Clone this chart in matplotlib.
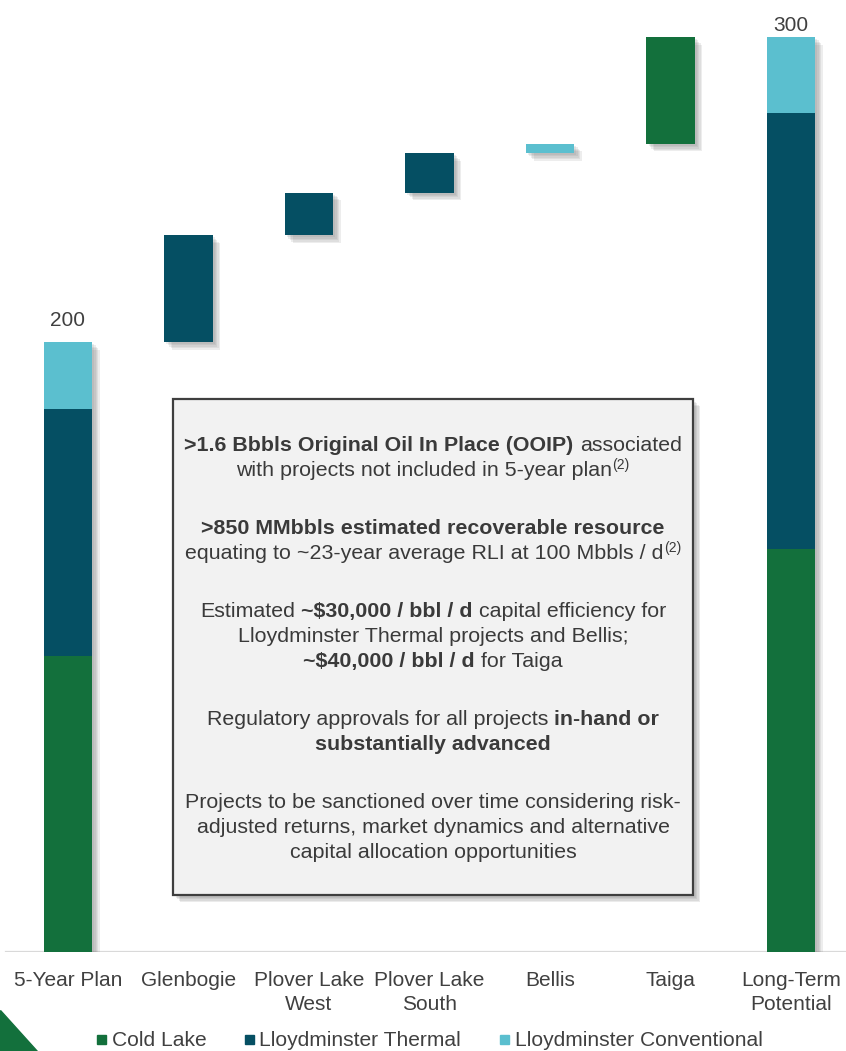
import matplotlib
matplotlib.use('Agg')
import matplotlib.pyplot as plt
from matplotlib.patches import Rectangle, Polygon
import matplotlib.patheffects as pe
from matplotlib.transforms import blended_transform_factory

# ---------------- data ----------------
categories = ["5-Year Plan", "Glenbogie", "Plover Lake\nWest", "Plover Lake\nSouth",
              "Bellis", "Taiga", "Long-Term\nPotential"]
series_names = ["Cold Lake", "Lloydminster Thermal", "Lloydminster Conventional"]
cold_lake = [97, 0, 0, 0, 0, 35, 132]
thermal = [81, 35, 14, 13, 0, 0, 143]
conventional = [22, 0, 0, 0, 3, 0, 25]
is_total = [True, False, False, False, False, False, True]
total_labels = ["200", "", "", "", "", "", "300"]

colors = ["#13703C", "#054F63", "#5BBFCF"]
text_color = "#404040"

plt.rcParams['font.family'] = ['Liberation Sans', 'DejaVu Sans']

W, H = 846, 1051
fig = plt.figure(figsize=(W / 100, H / 100), dpi=100)
renderer = fig.canvas.get_renderer()

y0_px = 952
unit = 3.05
ymax = 310
ax = fig.add_axes([0, 1 - y0_px / H, 1, ymax * unit / H])
ax.set_xlim(-0.564, 6.456)
ax.set_ylim(0, ymax)
ax.axis('off')

# baseline
ax.axhline(0, xmin=6 / W, xmax=1, color="#D9D9D9", lw=1.6, zorder=1)

series = [cold_lake, thermal, conventional]
width = 0.4
running = 0
shadow_fx = [pe.SimplePatchShadow(offset=(o, -o), shadow_rgbFace='#7a7a7a', alpha=0.13)
             for o in (1.5, 2.5, 3.5, 4.5, 5.5)]
label_gap_pt = {0: 11.5, 6: 4.5}
for i in range(len(categories)):
    base = 0 if is_total[i] else running
    tot = sum(s[i] for s in series)
    ax.bar(i, tot, bottom=base, width=width, color='none', edgecolor='none',
           path_effects=shadow_fx, zorder=2)
    b = base
    for s, c in zip(series, colors):
        if s[i] > 0:
            ax.bar(i, s[i], bottom=b, width=width, color=c, edgecolor='none', zorder=3)
            b += s[i]
    if is_total[i]:
        running = tot
        ax.annotate(total_labels[i], (i, tot), xytext=(0, label_gap_pt[i]),
                    textcoords='offset points', ha='center', va='baseline',
                    fontsize=15, color=text_color)
    else:
        running = base + tot

# category labels
trans = blended_transform_factory(ax.transData, fig.transFigure)
for i, cat in enumerate(categories):
    for k, line in enumerate(cat.split("\n")):
        ax.text(i, 1 - (986 + k * 24) / H, line, transform=trans, ha='center',
                va='baseline', fontsize=15, color=text_color)

# legend
leg_x = [(97, 112), (245, 259), (500, 515)]
for (mx, tx), name, c in zip(leg_x, series_names, colors):
    fig.patches.append(Rectangle((mx / W, 1 - 1044 / H), 9 / W, 9 / H,
                                 transform=fig.transFigure, color=c))
    fig.text(tx / W, 1 - 1046 / H, name, ha='left', va='baseline', fontsize=15.1,
             color=text_color)

# corner triangle
fig.patches.append(Polygon([(0, 1 - 1010 / H), (0, 0), (37 / W, 0)], closed=True,
                           transform=fig.transFigure, color=colors[0]))

# text box
bx0, by0, bx1, by1 = 173, 399, 693, 895
box = Rectangle((bx0 / W, 1 - by1 / H), (bx1 - bx0) / W, (by1 - by0) / H,
                transform=fig.transFigure, facecolor="#F2F2F2", edgecolor="#3F3F3F",
                lw=1.6, zorder=5,
                path_effects=[pe.SimplePatchShadow(offset=(o, -o), shadow_rgbFace='#7a7a7a',
                                                   alpha=0.15) for o in (2, 3, 4, 5)] + [pe.Normal()])
fig.patches.append(box)

FS = 15.4


def measure(s, size, weight):
    t = fig.text(0, 0, s, fontsize=size, weight=weight, parse_math=False)
    w = t.get_window_extent(renderer).width
    t.remove()
    return w


space_w = measure("a a", FS, 'normal') - measure("aa", FS, 'normal')

lines = [
    (451, [(">1.6 Bbbls Original Oil In Place (OOIP)", 'b'), (" associated", 'n')]),
    (476, [("with projects not included in 5-year plan", 'n'), ("(2)", 's')]),
    (534, [(">850 MMbbls estimated recoverable resource", 'b')]),
    (559, [("equating to ~23-year average RLI at 100 Mbbls / d", 'n'), ("(2)", 's')]),
    (617, [("Estimated ", 'n'), ("~$30,000 / bbl / d", 'b'), (" capital efficiency for", 'n')]),
    (642, [("Lloydminster Thermal projects and Bellis;", 'n')]),
    (667, [("~$40,000 / bbl / d", 'b'), (" for Taiga", 'n')]),
    (725, [("Regulatory approvals for all projects ", 'n'), ("in-hand or", 'b')]),
    (750, [("substantially advanced", 'b')]),
    (808, [("Projects to be sanctioned over time considering risk-", 'n')]),
    (833, [("adjusted returns, market dynamics and alternative", 'n')]),
    (858, [("capital allocation opportunities", 'n')]),
]
cx = (bx0 + bx1) / 2
for yb, segs in lines:
    items = []
    total = 0
    for s, kind in segs:
        lead = len(s) - len(s.lstrip(' '))
        trail = len(s) - len(s.rstrip(' '))
        core = s.strip(' ')
        size = 10 if kind == 's' else FS
        weight = 'bold' if kind == 'b' else 'normal'
        w = measure(core, size, weight)
        total += lead * space_w
        items.append((total, core, size, weight, kind))
        total += w + trail * space_w
    x0 = cx - total / 2
    for off, core, size, weight, kind in items:
        y = yb - (7 if kind == 's' else 0)
        fig.text((x0 + off) / W, 1 - y / H, core, fontsize=size, weight=weight,
                 ha='left', va='baseline', color="#3A3A3A", parse_math=False, zorder=6)

fig.savefig("out.png", dpi=100)
